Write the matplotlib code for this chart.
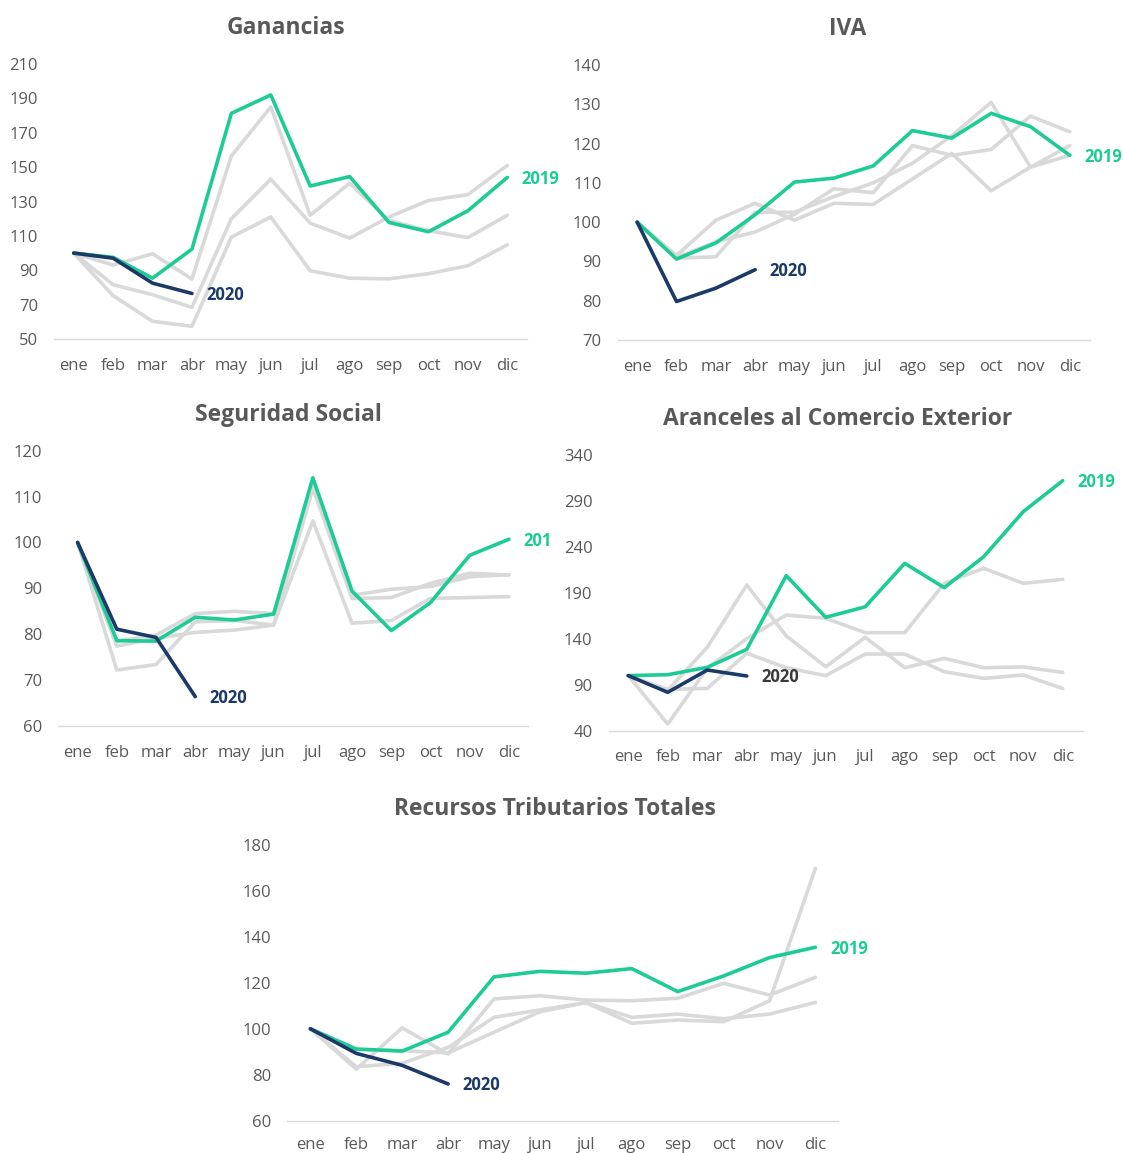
import matplotlib
matplotlib.use("Agg")
import matplotlib.pyplot as plt
from matplotlib.transforms import Bbox, TransformedBbox

plt.rcParams['font.family'] = ['Open Sans', 'DejaVu Sans']

months = ["ene", "feb", "mar", "abr", "may", "jun", "jul", "ago", "sep", "oct", "nov", "dic"]

# Ganancias
gan_2019 = [100, 97.5, 85.4, 102.3, 181.3, 192, 139, 144.5, 117.8, 112.4, 124.6, 144]
gan_2020 = [100, 97, 82.5, 76.5]
gan_prev = [
    [100, 93, 99.6, 84.9, 156.5, 185, 122, 140.6, 119, 113, 109, 122],
    [100, 81.6, 75.8, 68.4, 120, 143, 117.4, 108.7, 121, 130.6, 134, 151],
    [100, 75.2, 60.3, 57.4, 109.3, 121, 89.7, 85.4, 85, 88, 92.6, 104.8],
]

# IVA
iva_2019 = [100, 90.6, 94.7, 101.9, 110.2, 111.2, 114.3, 123.3, 121.4, 127.7, 124.3, 117]
iva_2020 = [100, 79.8, 83.2, 87.9]
iva_prev = [
    [100, 91.5, 100.5, 104.8, 100.5, 104.8, 104.5, 111, 117.5, 108, 114, 119.5],
    [100, 91, 95, 97.5, 102, 108.5, 107.5, 119.5, 117, 118.5, 127, 123],
    [100, 90.8, 91.2, 102.5, 102.5, 106.5, 110, 115, 122, 130.5, 114, 117],
]

# Seguridad Social
ss_2019 = [100, 78.6, 78.5, 83.7, 83.1, 84.4, 114.1, 89.4, 80.8, 86.9, 97.2, 100.7]
ss_2020 = [100, 81.1, 79.3, 66.4]
ss_prev = [
    [100, 72.2, 73.4, 82.7, 83, 82, 104.7, 82.4, 83, 87.8, 88, 88.2],
    [100, 77.4, 79.1, 80.4, 80.9, 82, 111.8, 87.8, 88, 91.1, 93.3, 92.9],
    [100, 78.5, 79.8, 84.5, 85, 84.5, 112.9, 88.5, 89.8, 90.4, 92.5, 93],
]

# Aranceles al Comercio Exterior
ar_2019 = [100, 101, 109, 128.6, 208.9, 163.5, 175, 222.3, 195.8, 229.6, 278.6, 312.4]
ar_2020 = [100, 81.8, 106.1, 99.6]
ar_prev = [
    [100, 47.3, 108, 140.3, 166, 162.4, 146.8, 146.8, 200.5, 216.9, 200.5, 204.9],
    [100, 84, 130.8, 198.7, 143.2, 109.7, 141.7, 108.6, 118.8, 108.6, 109.5, 103.5],
    [100, 85, 86.1, 124.3, 108.6, 100, 123.5, 123.5, 104.3, 97, 100.7, 86],
]

# Recursos Tributarios Totales
rt_2019 = [100, 91.2, 90.3, 98.5, 122.6, 125, 124.2, 126.2, 116.2, 123, 131, 135.5]
rt_2020 = [100, 89.3, 84.1, 76]
rt_prev = [
    [100, 82.4, 100.4, 89, 113, 114.4, 112.5, 112.2, 113.3, 119.8, 114.7, 122.4],
    [100, 83.5, 85, 91.9, 105, 108.2, 111.4, 105, 106.4, 104.4, 106.4, 111.5],
    [100, 91, 90.5, 89.5, 98.5, 107.4, 111.4, 102.4, 103.8, 103.1, 112.2, 169.9],
]

GREEN = "#1DCB96"
NAVY = "#1B3A68"
GREY = "#D9D9D9"
TXT = "#595959"

W, H = 1123, 1153
fig = plt.figure(figsize=(W / 100, H / 100), dpi=100)


def px_axes(x0, x1, ytop, ybot):
    return fig.add_axes([x0 / W, 1 - ybot / H, (x1 - x0) / W, (ybot - ytop) / H])


panels = [
    dict(title="Ganancias", tx=286, ty=28, box=(54, 527, 64, 339), ylim=(50, 210), yt=list(range(50, 211, 20)),
         y19=gan_2019, y20=gan_2020, prev=gan_prev, c20=NAVY, xpad=13.5),
    dict(title="IVA", tx=848, ty=29, box=(617.5, 1089.5, 65, 340), ylim=(70, 140), yt=list(range(70, 141, 10)),
         y19=iva_2019, y20=iva_2020, prev=iva_prev, c20=NAVY, xpad=13.5),
    dict(title="Seguridad Social", tx=288, ty=415, box=(58, 528.5, 450.7, 726), ylim=(60, 120), yt=list(range(60, 121, 10)),
         y19=ss_2019, y20=ss_2020, prev=ss_prev, c20=NAVY, clip=551, xpad=13.5),
    dict(title="Aranceles al Comercio Exterior", tx=838, ty=419, box=(608.5, 1082.5, 455.3, 730.7), ylim=(40, 340),
         yt=list(range(40, 341, 50)), y19=ar_2019, y20=ar_2020, prev=ar_prev, c20="#3A3A3A", xpad=13.5),
    dict(title="Recursos Tributarios Totales", tx=555, ty=809, box=(287.4, 838.4, 845, 1120.7), ylim=(60, 180),
         yt=list(range(60, 181, 20)), y19=rt_2019, y20=rt_2020, prev=rt_prev, c20=NAVY, xpad=11.5),
]

x = list(range(12))
for p in panels:
    ax = px_axes(*p["box"])
    for s in p["prev"]:
        ax.plot(x, s, color=GREY, lw=2.6, solid_capstyle="round", solid_joinstyle="round", zorder=1)
    ax.plot(x, p["y19"], color=GREEN, lw=2.6, solid_capstyle="round", solid_joinstyle="round", zorder=2)
    ax.plot(x[:len(p["y20"])], p["y20"], color=NAVY, lw=2.6, solid_capstyle="round", solid_joinstyle="round", zorder=3)
    ax.set_xlim(-0.5, 11.5)
    ax.set_ylim(*p["ylim"])
    ax.set_yticks(p["yt"])
    ax.set_xticks(x)
    ax.set_xticklabels(months)
    for sp in ["top", "right", "left"]:
        ax.spines[sp].set_visible(False)
    ax.spines["bottom"].set_color(GREY)
    ax.spines["bottom"].set_linewidth(1.0)
    ax.tick_params(axis="both", length=0, labelsize=12, labelcolor=TXT)
    ax.tick_params(axis="y", pad=11.5)
    ax.tick_params(axis="x", pad=p["xpad"])
    ax.patch.set_alpha(0)
    t19 = ax.annotate("2019", xy=(11, p["y19"][-1]), xytext=(10.5, -1), textcoords="offset points",
                      color=GREEN, fontsize=12, fontweight="bold", va="center", ha="left",
                      annotation_clip=False)
    ax.annotate("2020", xy=(len(p["y20"]) - 1, p["y20"][-1]), xytext=(10.5, -1), textcoords="offset points",
                color=p["c20"], fontsize=12, fontweight="bold", va="center", ha="left", annotation_clip=False)
    if "clip" in p:
        t19.set_clip_on(True)
        t19.set_clip_box(TransformedBbox(Bbox([[0, 0], [p["clip"] / W, 1]]), fig.transFigure))
    fig.text(p["tx"] / W, 1 - p["ty"] / H, p["title"], ha="center", va="center", fontsize=16.5,
             fontweight="bold", color=TXT)

fig.savefig("out.png", dpi=100)
